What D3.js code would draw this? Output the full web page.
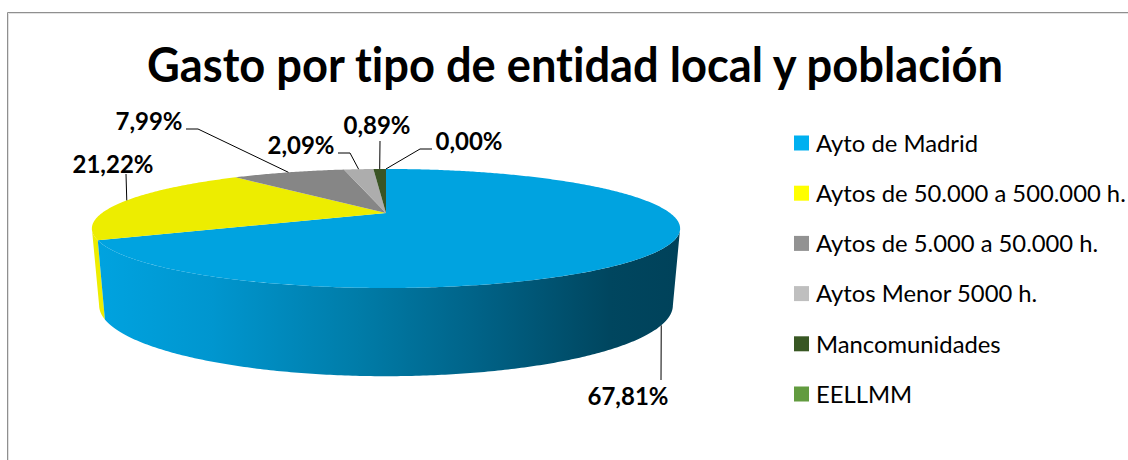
<!DOCTYPE html>
<html><head><meta charset="utf-8">
<script src="https://cdn.jsdelivr.net/npm/d3@7"></script>
<style>html,body{margin:0;padding:0;background:#fff;overflow:hidden}svg{display:block}text{font-variant-ligatures:none}</style>
</head><body><div id="c"></div>
<script>
const categories = ["Ayto de Madrid","Aytos de 50.000 a 500.000 h.","Aytos de 5.000 a 50.000 h.","Aytos Menor 5000 h.","Mancomunidades","EELLMM"];
const values = [67.81,21.22,7.99,2.09,0.89,0.00];
const sliceColors = ["#00a3e0","#eded00","#868686","#adadad","#3a5424","#5f9a3f"];
const legendColors = ["#00b0f0","#ffff00","#929292","#bfbfbf","#385723","#629b3f"];
const title = "Gasto por tipo de entidad local y población";
const fontF = "Lato, Carlito, Calibri, sans-serif";

const W=1128,H=460;
const svg=d3.select("#c").append("svg").attr("width",W).attr("height",H);
const defs=svg.append("defs");

// frame
svg.append("path").attr("d",`M8.5,${H}V13.5H${W}`).attr("fill","none").attr("stroke","#e2e2e2").attr("stroke-width",1);
svg.append("path").attr("d",`M7.5,${H}V12.5H${W}`).attr("fill","none").attr("stroke","#8f8f8f").attr("stroke-width",1);

svg.append("text").attr("x",575).attr("y",82).attr("text-anchor","middle")
  .attr("textLength",856).attr("lengthAdjust","spacingAndGlyphs")
  .attr("font-family",fontF).attr("font-weight",700).attr("font-size",47).attr("fill","#000").text(title);

// perspective projection of the pie disc
const cx=386,k=0.26;
const top_={a:284,b:55.5,cy:213}, bot={a:277,b:66,cy:287};
const proj=(theta,p)=>{const u=Math.sin(theta),v=-Math.cos(theta),w=1-k*v;
  return [cx+p.a*u/w,p.cy+p.b*v/w];};
const pie=d3.pie().sort(null).value(d=>d)(values);
const arcPts=(a0,a1,p)=>{const n=Math.max(2,Math.ceil((a1-a0)/0.01));
  return d3.range(n+1).map(i=>proj(a0+(a1-a0)*i/n,p));};
const line=d3.line();

// wall gradient
const grad=defs.append("linearGradient").attr("id","wall").attr("gradientUnits","userSpaceOnUse")
  .attr("x1",95).attr("x2",680).attr("y1",0).attr("y2",0);
[[0,"#00a3e0"],[0.2,"#0096cf"],[0.45,"#007ca8"],[0.65,"#006388"],[0.88,"#00465f"],[1,"#00425a"]]
  .forEach(s=>grad.append("stop").attr("offset",s[0]).attr("stop-color",s[1]));

const thR=Math.acos(-k), thL=2*Math.PI-thR;
const wall=(a0,a1)=>line(arcPts(a0,a1,top_).concat(arcPts(a0,a1,bot).reverse()))+"Z";
// left sliver of the second slice, behind the first
svg.append("path").attr("d",wall(pie[0].endAngle,thL)).attr("fill",sliceColors[1]);
svg.append("path").attr("d",wall(thR,pie[0].endAngle)).attr("fill","url(#wall)");

// top faces
svg.selectAll("path.s").data(pie).join("path").attr("class","s")
  .attr("d",d=>line([proj(0,{a:0,b:0,cy:top_.cy})].concat(arcPts(d.startAngle,d.endAngle,top_)))+"Z")
  .attr("fill",(d,i)=>sliceColors[i]);

// data labels
const fmt=v=>v.toFixed(2).replace(".",",")+"%";
const labelLayout=[
 {x:628,y:397,theta:2.1,face:bot,pts:[[661,380]]},
 {x:113,y:165,theta:4.957,pts:[[126,174]]},
 {x:149,y:122,pts:[[198,129],[186,129]]},
 {x:301,y:146,pts:[[350,153],[338,153]]},
 {x:377,y:126,pts:[[380,141]]},
 {x:469,y:142,pts:[[420,149],[432,149]]}
];
values.forEach((v,i)=>{
  const l=labelLayout[i], d=pie[i];
  const a=proj(l.theta===undefined?(d.startAngle+d.endAngle)/2:l.theta,l.face||top_);
  svg.append("path").attr("d",line([a].concat(l.pts))).attr("fill","none").attr("stroke","#000").attr("stroke-width",1);
  svg.append("text").attr("x",l.x).attr("y",l.y).attr("dy","0.35em").attr("text-anchor","middle")
    .attr("font-family",fontF).attr("font-weight",700).attr("font-size",24).attr("fill","#000").text(fmt(v));
});

// legend
const ly=d3.scalePoint().domain(categories).range([143.5,394.5]);
const g=svg.append("g").selectAll("g").data(categories).join("g");
g.append("rect").attr("x",794).attr("y",d=>ly(d)-8).attr("width",15).attr("height",15).attr("fill",(d,i)=>legendColors[i]);
g.append("text").attr("x",816).attr("y",d=>ly(d)).attr("dy","0.35em").attr("font-family",fontF).attr("font-size",23.8).attr("fill","#000").text(d=>d);
</script></body></html>
